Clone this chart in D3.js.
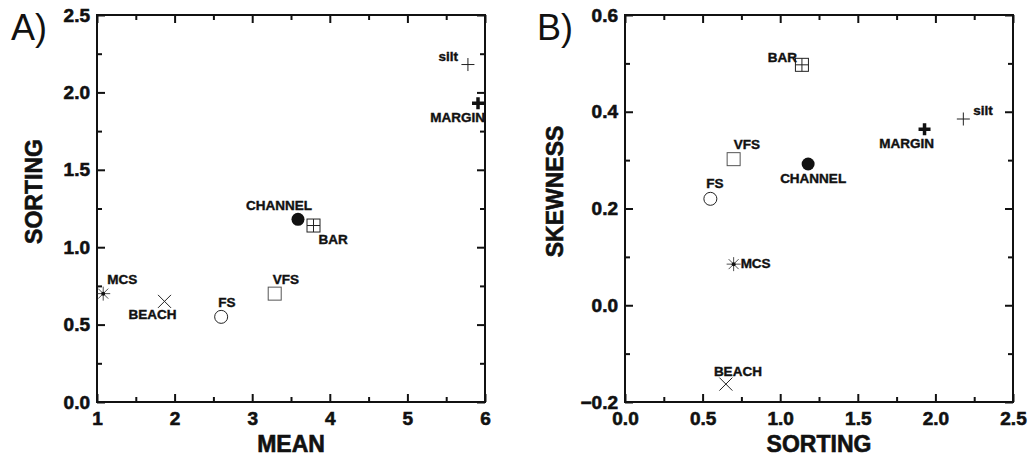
<!DOCTYPE html>
<head>
<meta charset="utf-8">
<script src="https://d3js.org/d3.v7.min.js"></script>
<style>
  body { margin: 0; background: #fff; }
  svg text { font-family: "Liberation Sans", Arial, sans-serif; fill: #111; }
  .ptlabel { font-size: 13.5px; font-weight: bold; stroke: #111; stroke-width: 0.4px; }
  .axtitle { font-size: 23px; font-weight: bold; stroke: #111; stroke-width: 0.6px; }
  .panel { font-size: 36px; }
</style>
</head>
<body>
<div id="chart"></div>
<script>
// sample classes and their textural parameters
var classes   = ["MCS", "BEACH", "FS", "VFS", "CHANNEL", "BAR", "silt", "MARGIN"];
var meanVals  = [1.08, 1.87, 2.60, 3.29, 3.59, 3.79, 5.78, 5.91];
var sortVals  = [0.70, 0.65, 0.55, 0.70, 1.18, 1.14, 2.18, 1.93];
var skewVals  = [0.085, -0.163, 0.22, 0.302, 0.292, 0.497, 0.385, 0.364];

// tick labels
var meanTicks = [1, 2, 3, 4, 5, 6];
var sortTicksA = [0.0, 0.5, 1.0, 1.5, 2.0, 2.5];
var sortTicksB = [0.0, 0.5, 1.0, 1.5, 2.0, 2.5];
var skewTicks = [-0.2, 0.0, 0.2, 0.4, 0.6];

// marker style per class
var markers = ["asterisk", "cross", "circle", "square", "dot", "boxplus", "plus", "boldplus"];

// label offsets [dx, dy, anchor] for each panel
var labelPosA = [[4, -10, "start"], [-12, 18, "middle"], [-3, -10, "start"], [-2, -10, "start"],
                 [14, -9, "end"], [5, 18, "start"], [-10, -4, "end"], [7, 19, "end"]];
var labelPosB = [[7, 4, "start"], [-12, -8, "start"], [-4, -11, "start"], [0, -10, "start"],
                 [5, 19, "middle"], [-5, -3, "end"], [10, -4, "start"], [-18, 19, "middle"]];

var svg = d3.select("#chart").append("svg")
    .attr("width", 1029)
    .attr("height", 458);

var W = 388, H = 387;

function marker(g, type, x, y) {
  var m = g.append("g").attr("transform", "translate(" + x + "," + y + ")")
      .attr("stroke", "#222").attr("fill", "none").attr("stroke-width", 1);
  if (type == "asterisk") {
    m.append("path").attr("d", "M-7,0H7M0,-7V7M-5,-5L5,5M-5,5L5,-5").attr("stroke-width", 0.8);
    m.append("circle").attr("r", 2).attr("fill", "#111").attr("stroke", "none");
  } else if (type == "cross") {
    m.append("path").attr("d", "M-6.5,-6.5L6.5,6.5M-6.5,6.5L6.5,-6.5");
  } else if (type == "circle") {
    m.append("circle").attr("r", 6.5).attr("fill", "#fff");
  } else if (type == "square") {
    m.append("rect").attr("x", -6.5).attr("y", -6.5).attr("width", 13).attr("height", 13)
      .attr("fill", "#fff").attr("stroke", "#555");
  } else if (type == "dot") {
    m.append("circle").attr("r", 6.5).attr("fill", "#111").attr("stroke", "none");
  } else if (type == "boxplus") {
    m.append("rect").attr("x", -6.5).attr("y", -6.5).attr("width", 13).attr("height", 13).attr("fill", "#fff");
    m.append("path").attr("d", "M-6.5,0H6.5M0,-6.5V6.5");
  } else if (type == "plus") {
    m.append("path").attr("d", "M-6.5,0H6.5M0,-6.5V6.5");
  } else if (type == "boldplus") {
    m.append("path").attr("d", "M-6,0H6M0,-6V6").attr("stroke-width", 3.5).attr("stroke", "#111");
  }
}

function panel(opt) {
  var g = svg.append("g").attr("transform", "translate(" + opt.left + ",15)");

  var x = d3.scaleLinear().domain(opt.xDomain).range([0, W]);
  var y = d3.scaleLinear().domain(opt.yDomain).range([H, 0]);

  // minor ticks on all four sides
  g.append("g").attr("transform", "translate(0," + H + ")")
    .call(d3.axisBottom(x).tickValues(opt.xMinor).tickSize(-5).tickFormat(""));
  g.append("g")
    .call(d3.axisTop(x).tickValues(opt.xMinor).tickSize(-5).tickFormat(""));
  g.append("g")
    .call(d3.axisLeft(y).tickValues(opt.yMinor).tickSize(-5).tickFormat(""));
  g.append("g").attr("transform", "translate(" + W + ",0)")
    .call(d3.axisRight(y).tickValues(opt.yMinor).tickSize(-5).tickFormat(""));

  // major ticks
  g.append("g").attr("transform", "translate(0," + H + ")")
    .call(d3.axisBottom(x).tickValues(opt.xTicks).tickSize(-8).tickPadding(10).tickFormat(opt.xFmt));
  g.append("g")
    .call(d3.axisTop(x).tickValues(opt.xTicks).tickSize(-8).tickFormat(""));
  g.append("g")
    .call(d3.axisLeft(y).tickValues(opt.yTicks).tickSize(-8).tickPadding(7).tickFormat(d3.format(".1f")));
  g.append("g").attr("transform", "translate(" + W + ",0)")
    .call(d3.axisRight(y).tickValues(opt.yTicks).tickSize(-8).tickFormat(""));

  g.selectAll(".domain").remove();
  g.selectAll(".tick line").attr("stroke", "#111").attr("stroke-width", 2);
  g.selectAll(".tick text")
    .attr("fill", "#111")
    .style("font-family", "'Liberation Sans', Arial, sans-serif")
    .style("font-size", "19px")
    .style("font-weight", "bold")
    .style("stroke", "#111")
    .style("stroke-width", "0.6px");

  g.append("rect").attr("width", W).attr("height", H)
    .attr("fill", "none").attr("stroke", "#111").attr("stroke-width", 2);

  // points
  classes.forEach(function (c, i) {
    var px = x(opt.xs[i]), py = y(opt.ys[i]);
    marker(g, markers[i], px, py);
    var lp = opt.labelPos[i];
    g.append("text").attr("class", "ptlabel")
      .attr("x", px + lp[0]).attr("y", py + lp[1])
      .attr("text-anchor", lp[2])
      .text(c);
  });

  // axis titles
  g.append("text").attr("class", "axtitle")
    .attr("x", W / 2).attr("y", 437)
    .attr("text-anchor", "middle")
    .text(opt.xTitle);
  g.append("text").attr("class", "axtitle")
    .attr("transform", "translate(" + opt.yTitleX + "," + (H / 2 - 17) + ") rotate(-90)")
    .attr("text-anchor", "middle")
    .text(opt.yTitle);

  svg.append("text").attr("class", "panel")
    .attr("x", opt.tagX).attr("y", 40)
    .text(opt.tag);
}

panel({
  left: 97, tag: "A)", tagX: 11,
  xDomain: [1, 6], yDomain: [0, 2.5],
  xTicks: meanTicks, yTicks: sortTicksA,
  xMinor: [1.5, 2.5, 3.5, 4.5, 5.5],
  yMinor: [0.25, 0.75, 1.25, 1.75, 2.25],
  xFmt: d3.format("d"),
  xs: meanVals, ys: sortVals, labelPos: labelPosA,
  xTitle: "MEAN", yTitle: "SORTING", yTitleX: -55
});

panel({
  left: 625, tag: "B)", tagX: 537,
  xDomain: [0, 2.5], yDomain: [-0.2, 0.6],
  xTicks: sortTicksB, yTicks: skewTicks,
  xMinor: [0.25, 0.75, 1.25, 1.75, 2.25],
  yMinor: [-0.1, 0.1, 0.3, 0.5],
  xFmt: d3.format(".1f"),
  xs: sortVals, ys: skewVals, labelPos: labelPosB,
  xTitle: "SORTING", yTitle: "SKEWNESS", yTitleX: -62
});
</script>
</body>
